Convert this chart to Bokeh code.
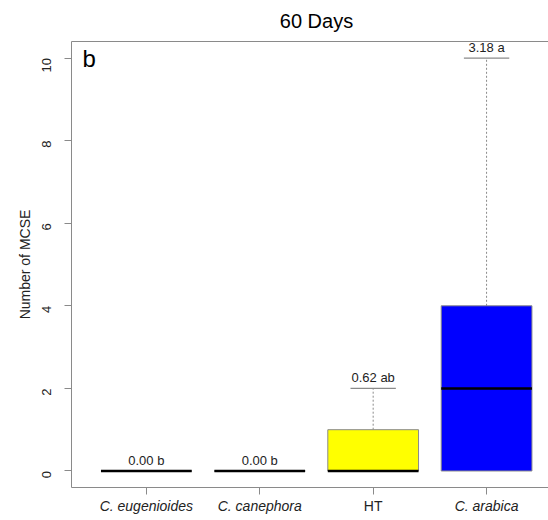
import math
from bokeh.plotting import figure
from bokeh.models import Range1d, FixedTicker, LinearAxis, ColumnDataSource
from bokeh.core.properties import value
from bokeh.embed import file_html
from bokeh.resources import INLINE

# ---- data ----
categories = ["C. eugenioides", "C. canephora", "HT", "C. arabica"]
italic_flags = [True, True, False, True]
q1 = [0, 0, 0, 0]
medians = [0, 0, 0, 2]
q3 = [0, 0, 1, 4]
whisker_hi = [0, 0, 2, 10]
box_colors = ["white", "white", "yellow", "blue"]
mean_labels = ["0.00 b", "0.00 b", "0.62 ab", "3.18 a"]
y_ticks = [0, 2, 4, 6, 8, 10]
title_text = "60 Days"
panel_letter = "b"
y_label = "Number of MCSE"

FONT = "Liberation Sans"
GRAY = "#8a8a8a"
TXT = "#222222"

# plot region (R style: data range extended by 4%)
X0, X1 = 0.34, 4.66
Y0, Y1 = -0.4, 10.4
# canvas mapping (frame covers whole canvas; axes at fixed locations)
XS = -0.286
XE = 4.546
YT = 11.393
YB = -1.199

xs = list(range(1, len(categories) + 1))
src = ColumnDataSource(dict(
    x=xs,
    left=[x - 0.4 for x in xs], right=[x + 0.4 for x in xs],
    cl=[x - 0.2 for x in xs], cr=[x + 0.2 for x in xs],
    q1=q1, q3=q3, med=medians, hi=whisker_hi,
    color=box_colors, lab=mean_labels,
))

p = figure(width=548, height=520, output_backend="svg", toolbar_location=None,
           x_range=Range1d(XS, XE), y_range=Range1d(YB, YT),
           min_border_left=0, min_border_top=0, min_border_bottom=0, min_border_right=0,
           x_axis_location=None, y_axis_location=None)
p.outline_line_color = None
p.grid.visible = False
p.background_fill_color = "white"
p.border_fill_color = "white"

# axes
yax = LinearAxis(ticker=FixedTicker(ticks=y_ticks), fixed_location=X0, bounds=(Y0, Y1))
yax.axis_line_color = GRAY
yax.major_tick_line_color = GRAY
yax.major_tick_out = 7
yax.major_tick_in = 0
yax.minor_tick_line_color = None
yax.major_label_orientation = math.pi / 2
yax.major_label_text_font = FONT
yax.major_label_text_font_size = "13px"
yax.major_label_text_color = TXT
yax.major_label_standoff = 18
yax.axis_label = y_label
yax.axis_label_text_font = FONT
yax.axis_label_text_font_size = "14px"
yax.axis_label_text_font_style = "normal"
yax.axis_label_text_color = TXT
yax.axis_label_standoff = 2
p.add_layout(yax, "left")

xax = LinearAxis(ticker=FixedTicker(ticks=xs), fixed_location=Y0, bounds=(X0, X1))
xax.axis_line_color = GRAY
xax.major_tick_line_color = GRAY
xax.major_tick_out = 7
xax.major_tick_in = 0
xax.minor_tick_line_color = None
xax.major_label_overrides = {x: "" for x in xs}
xax.major_label_text_font_size = "1px"
p.add_layout(xax, "below")

top = LinearAxis(ticker=FixedTicker(ticks=[]), fixed_location=Y1, bounds=(X0, X1))
top.axis_line_color = GRAY
top.major_tick_line_color = None
top.minor_tick_line_color = None
top.major_label_text_font_size = "1px"
p.add_layout(top, "above")

# whiskers and caps
p.segment(x0="x", y0="q3", x1="x", y1="hi", source=src, line_color=GRAY,
          line_width=1, line_dash="2 2")
p.segment(x0="cl", y0="hi", x1="cr", y1="hi", source=src, line_color=GRAY, line_width=1.2)
# boxes
p.quad(left="left", right="right", bottom="q1", top="q3", source=src,
       fill_color="color", line_color=GRAY, line_width=1)
# medians
p.segment(x0="left", y0="med", x1="right", y1="med", source=src, line_color="black",
          line_width=2.5)
# mean labels
p.text(x="x", y="hi", text="lab", source=src, text_font=value(FONT), text_font_size="13px",
       text_color=TXT, text_align="center", text_baseline="bottom", y_offset=-3)

# category labels
cat_src = ColumnDataSource(dict(
    x=xs, y=[-0.836] * len(xs), name=categories,
    style=["italic" if it else "normal" for it in italic_flags],
))
p.text(x="x", y="y", text="name", source=cat_src, text_font=value(FONT),
       text_font_size="14px", text_font_style="style", text_color=TXT,
       text_align="center", text_baseline="middle")

# title and panel letter
p.text(x=[(X0 + X1) / 2], y=[10.905], text=[title_text], text_font=value(FONT),
       text_font_size="20px", text_color="black", text_align="center",
       text_baseline="alphabetic")
p.text(x=[0.436], y=[9.99], text=[panel_letter], text_font=value(FONT),
       text_font_size="24px", text_color="black", text_align="left",
       text_baseline="alphabetic")

open("out.html", "w").write(file_html(p, INLINE))
